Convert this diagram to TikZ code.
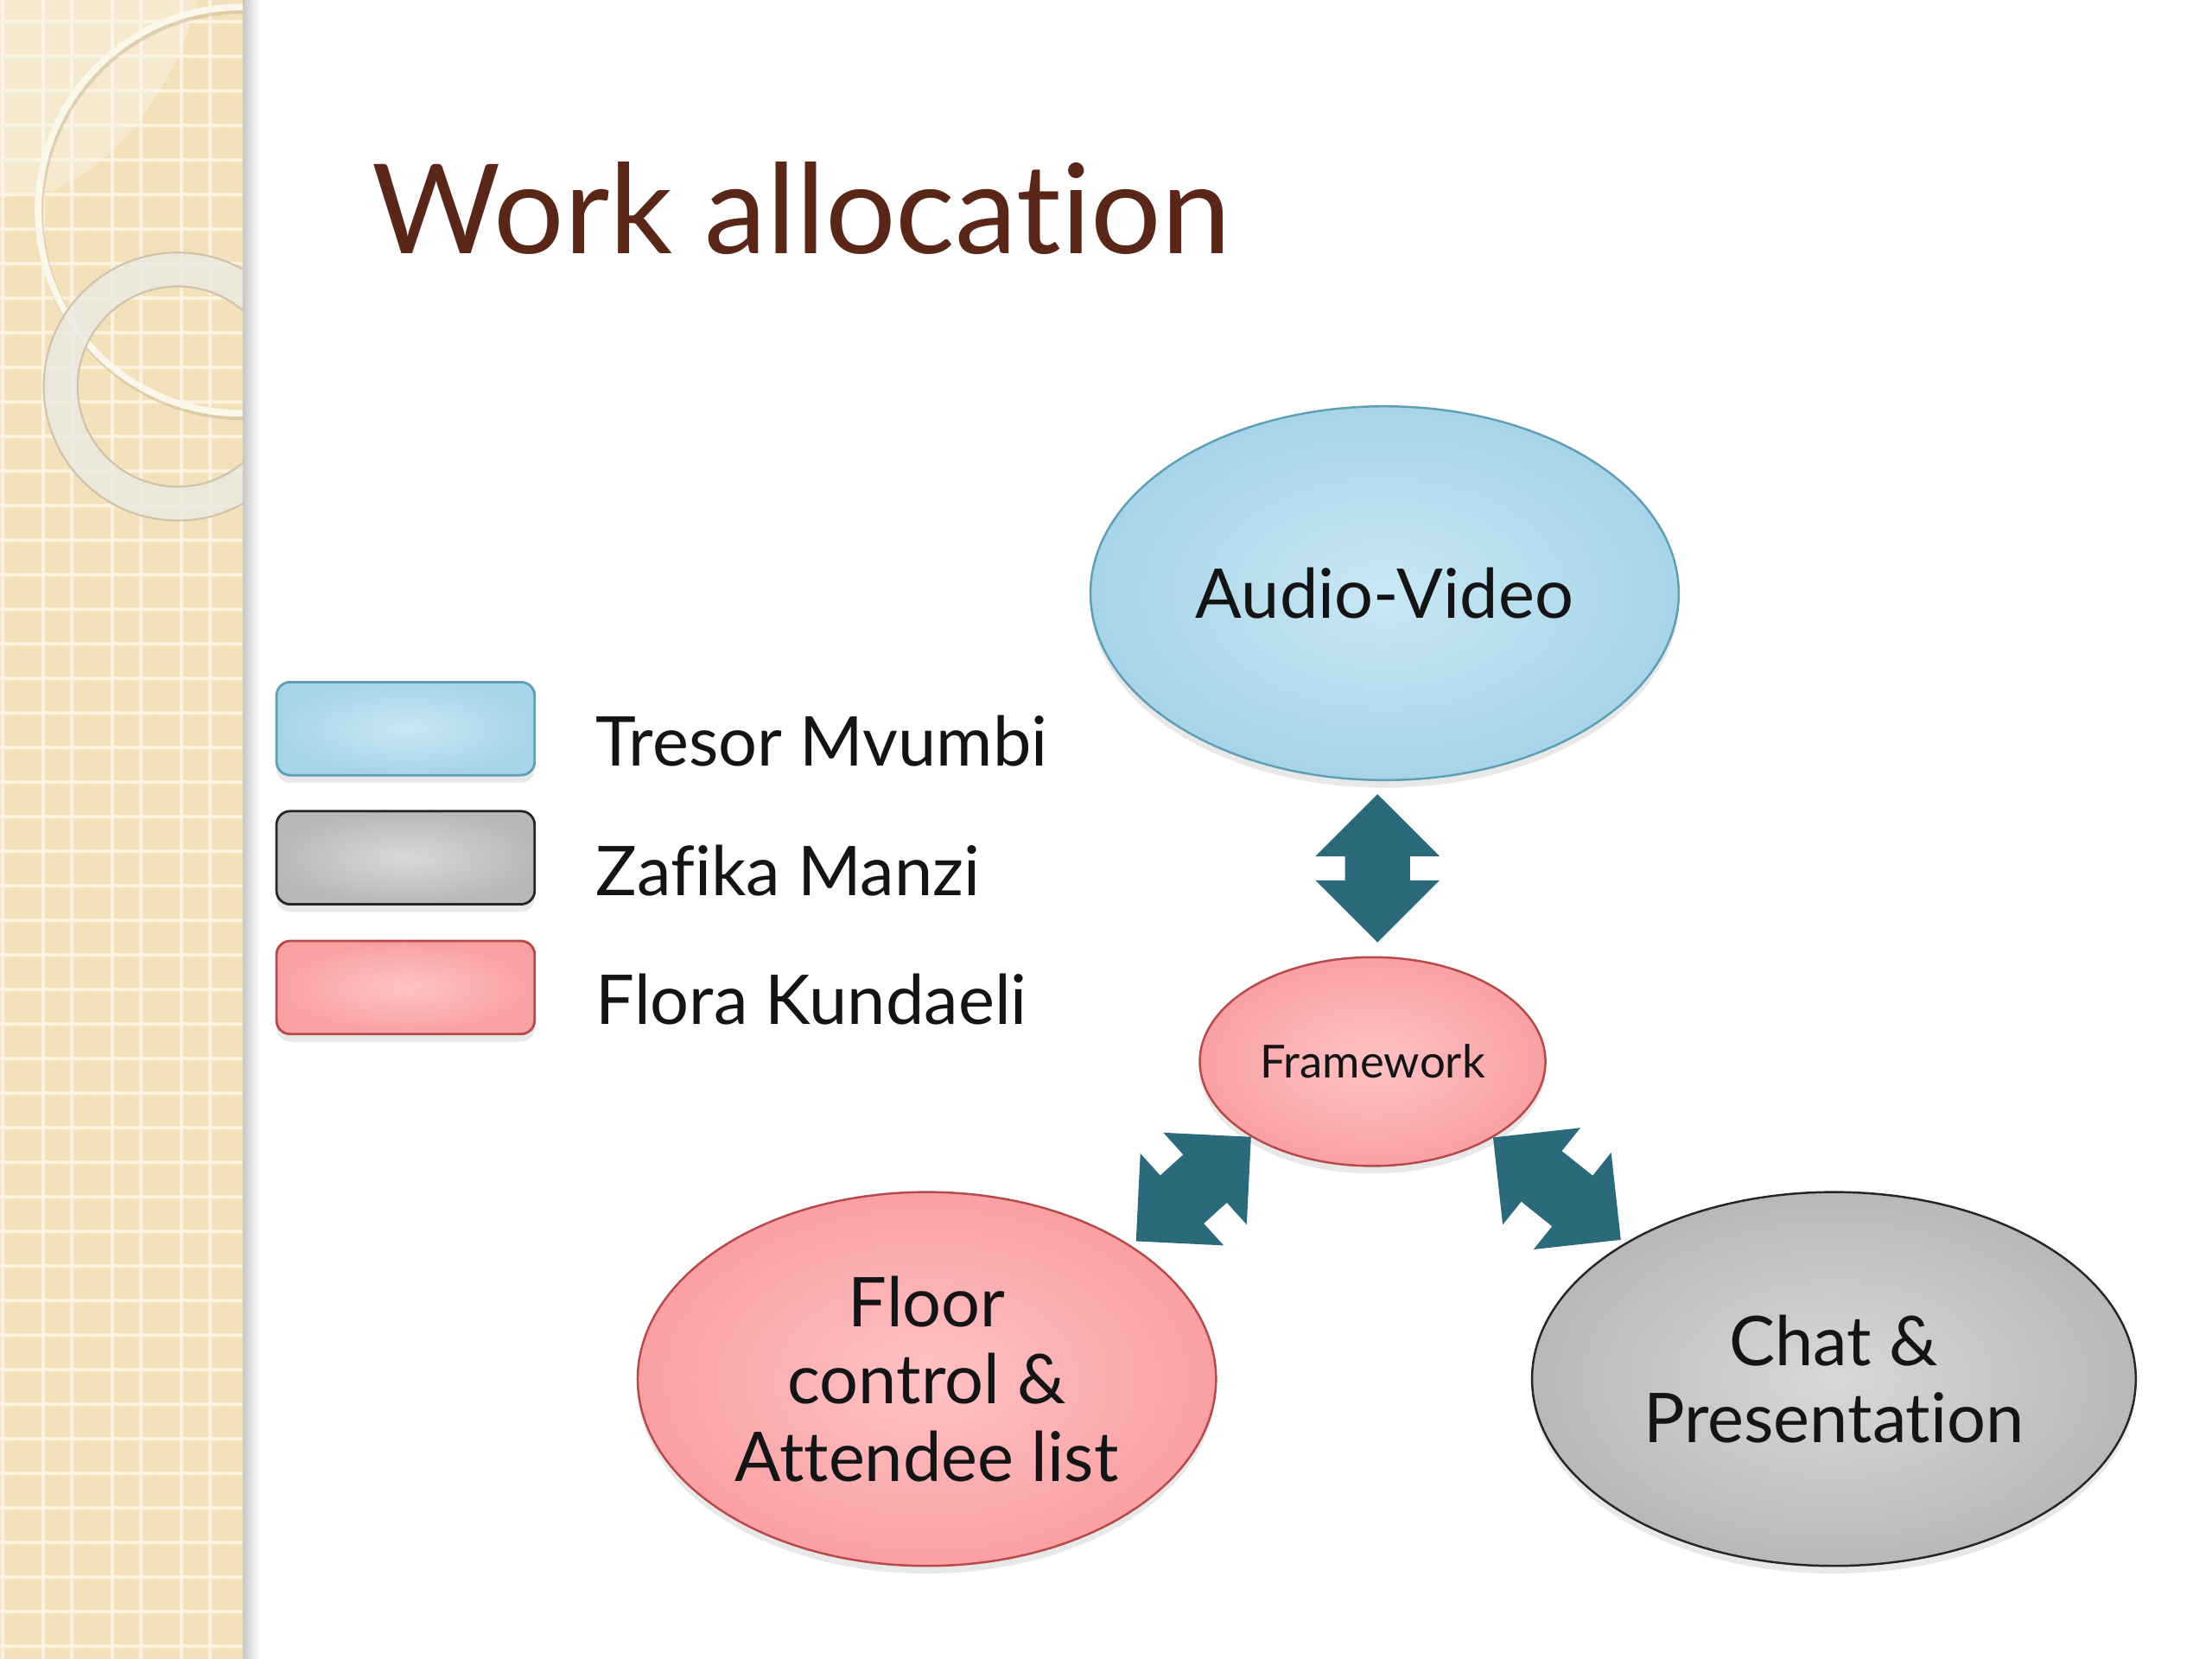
\documentclass[tikz,border=0pt]{standalone}
\usepackage{fontspec}
\setmainfont{Lato}[Ligatures=NoCommon]
\usetikzlibrary{shapes.geometric,shadows}
\newdimen\pxu \pxu=0.016327cm
\definecolor{sidecol}{HTML}{F2E1BA}
\definecolor{gridcol}{HTML}{FAF2DE}
\definecolor{ringcol}{HTML}{FBF7EA}
\definecolor{ringshd}{HTML}{C9B88F}
\definecolor{thickring}{HTML}{ECE9E1}
\definecolor{thickedge}{HTML}{CFC4AA}
\definecolor{titlecol}{HTML}{5A2617}
\definecolor{bluein}{HTML}{C8E7F4}
\definecolor{blueout}{HTML}{A6D4E8}
\definecolor{blueedge}{HTML}{5F9FB6}
\definecolor{pinkin}{HTML}{FFC2C4}
\definecolor{pinkout}{HTML}{F9A0A3}
\definecolor{pinkedge}{HTML}{B8494B}
\definecolor{greyin}{HTML}{D8D8D8}
\definecolor{greyout}{HTML}{B8B8B8}
\definecolor{greyedge}{HTML}{262626}
\definecolor{arrowcol}{HTML}{2B6A7A}
\newcommand\blockarrow[3]{%
  \begin{scope}[shift={(#1)}, rotate=#2]
    \fill[arrowcol] (0,0) -- (44,44) -- (44,23) -- ({#3-44},23) -- ({#3-44},44) -- (#3,0)
      -- ({#3-44},-44) -- ({#3-44},-23) -- (44,-23) -- (44,-44) -- cycle;
  \end{scope}}
\begin{document}
\begin{tikzpicture}[x=0.016327cm, y=-0.016327cm,
  shd/.style={drop shadow={shadow xshift=0pt, shadow yshift=-2.5pt, opacity=0.18}},
  ell/.style={ellipse, inner sep=0pt, align=center, line width=0.7pt, text=black!92, shd,
    font=\fontsize{22.6}{25.5}\selectfont},
  blueball/.style={ell, draw=blueedge, inner color=bluein, outer color=blueout},
  pinkball/.style={ell, draw=pinkedge, inner color=pinkin, outer color=pinkout},
  greyball/.style={ell, draw=greyedge, inner color=greyin, outer color=greyout},
  legbox/.style={rectangle, rounded corners=4.5pt, minimum width=183*\pxu, minimum height=66*\pxu,
    inner sep=0pt, line width=0.8pt, shd},
  legtext/.style={anchor=base west, inner sep=0pt, font=\fontsize{22.6}{25}\selectfont, text=black!92},
  gridln/.style={gridcol, line width=1.2pt}
]
\useasboundingbox (0,0) rectangle (1568,1176);
\fill[white] (0,0) rectangle (1568,1176);

% side panel
\begin{scope}
  \clip (0,0) rectangle (172,1176);
  \fill[sidecol] (0,0) rectangle (172,1176);
  \foreach \x in {2,51,100,149} \draw[gridln] (\x,0) -- (\x,1176);
  \foreach \x in {30.5,79.5,128.5} \draw[gridln] (\x,0) -- (\x,1176);
  \foreach \k in {0,...,48} \draw[gridln] (0,{15.5+24.5*\k}) -- (172,{15.5+24.5*\k});
  \fill[white, opacity=0.3] (0,0) -- (140,0) .. controls (125,60) and (85,115) .. (37,135) -- (0,140) -- cycle;
  \draw[ringshd, opacity=0.5, line width=2.6pt] (172,151) circle[radius=144];
  \draw[ringcol, line width=2.2pt] (171,149) circle[radius=144];
  \fill[thickring, opacity=0.85, even odd rule] (126,274) circle[radius=95] (126,274) circle[radius=71];
  \draw[thickedge, line width=0.6pt] (126,274) circle[radius=95] (126,274) circle[radius=71];
\end{scope}
\shade[left color=black!22, right color=white] (172,0) rectangle (184,1176);

% title
\node[anchor=base west, inner sep=0pt, font=\fontsize{41}{41}\selectfont, text=titlecol] (title) at (263,180) {Work allocation};

% legend
\node[legbox, draw=blueedge, inner color=bluein, outer color=blueout] (lb1) at (287.5,516.5) {};
\node[legbox, draw=greyedge, inner color=greyin, outer color=greyout] (lb2) at (287.5,608) {};
\node[legbox, draw=pinkedge, inner color=pinkin, outer color=pinkout] (lb3) at (287.5,700) {};
\node[legtext] (lt1) at (422,543) {Tresor Mvumbi};
\node[legtext] (lt2) at (422,635) {Zafika Manzi};
\node[legtext] (lt3) at (422,726) {Flora Kundaeli};

% ellipses
\node[blueball, minimum width=417*\pxu, minimum height=265*\pxu] (av) at (981.5,420.5) {Audio-Video};
\node[pinkball, minimum width=245*\pxu, minimum height=148*\pxu, font=\fontsize{15}{17}\selectfont] (fw) at (973,752.5) {Framework};
\node[pinkball, minimum width=410*\pxu, minimum height=265*\pxu] (fc) at (657,977.5) {Floor\\control \&\\Attendee list};
\node[greyball, minimum width=428*\pxu, minimum height=265*\pxu] (cp) at (1300,977.5) {Chat \&\\Presentation};

% block arrows
\coordinate (a1) at (976.5,668);
\coordinate (a2) at (805.3,879.8);
\coordinate (a3) at (1058.4,806.3);
\blockarrow{a1}{90}{105}
\blockarrow{a2}{42.2}{110}
\blockarrow{a3}{-38.7}{116}
\end{tikzpicture}
\end{document}
